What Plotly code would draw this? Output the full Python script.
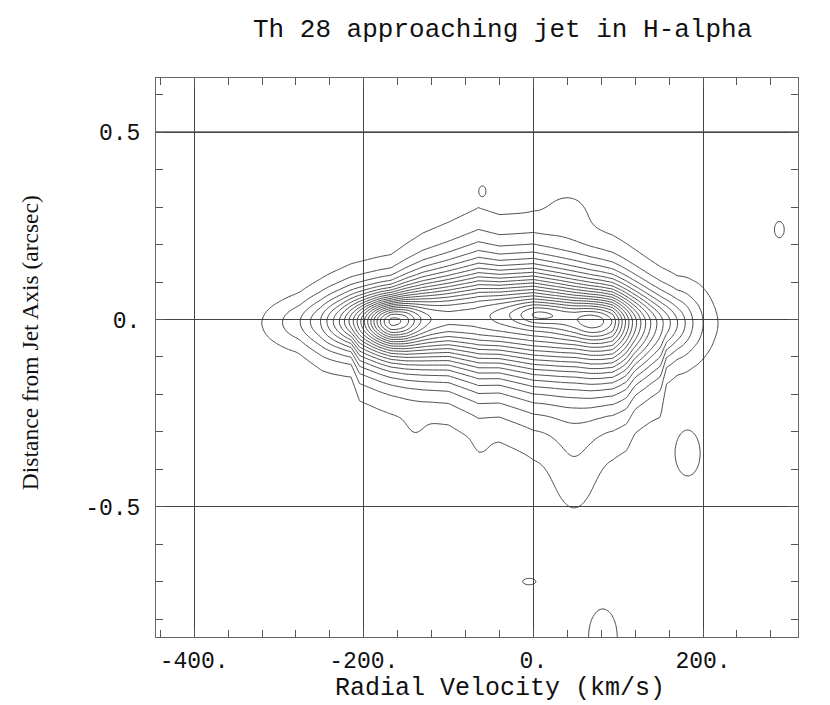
import numpy as np
import plotly.graph_objects as go

# ---------------- text ----------------
title_text = "Th 28 approaching jet in H-alpha"
x_title = "Radial Velocity (km/s)"
y_title = "Distance from Jet Axis (arcsec)"

# ---------------- axes ----------------
x_tick_vals = [-400, -200, 0, 200]
x_tick_text = ["-400.", "-200.", "0.", "200."]
y_tick_vals = [-0.5, 0.0, 0.5]
y_tick_text = ["-0.5", "0.", "0.5"]
x_range = [-445, 312]
y_range = [-0.848, 0.645]

# contour levels (linear, in units of the lowest level)
level_start = 1
level_end = 21
level_step = 1

# ---------------- emission ridge ----------------
# ridge brightness (in contour-level units) along the velocity axis
ridge_v = [-360, -340, -320, -300, -275, -251, -228, -207, -191, -180, -168,
           -150, -127, -100, -70, -40, 0, 30, 50, 68, 80, 93, 101, 109, 117,
           127, 138, 153, 170, 188, 200, 214, 225, 240, 280]
ridge_level = [0.2, 0.5, 1.0, 1.8, 3.0, 5.0, 8.0, 11.2, 13.4, 15.0, 16.5,
               17.0, 16.6, 16.3, 16.5, 17.2, 17.8, 17.6, 17.3, 17.6, 17.6, 17.2, 15.8, 14.2, 12.6,
               10.8, 9.0, 7.0, 5.0, 3.0, 2.0, 1.15, 0.7, 0.3, 0.05]

# ridge centre line (arcsec)
center_v = [-340, -250, -168, -100, 0, 68, 150, 215, 240]
center_d = [-0.01, -0.005, -0.005, 0.005, 0.012, -0.004, -0.01, -0.01, -0.01]

# ridge half-widths above / below the centre line (arcsec)
width_v = [-340, -300, -280, -250, -215, -205, -168, -130, -100, -65, -40, 0,
           50, 90, 110, 120, 150, 157, 170, 200, 215, 240]
width_up = [0.106, 0.106, 0.106, 0.12, 0.125, 0.124, 0.124, 0.16, 0.178, 0.202,
            0.186, 0.186, 0.176, 0.16, 0.153, 0.149, 0.136, 0.135, 0.133, 0.168, 0.165, 0.165]
width_down = [0.116, 0.116, 0.113, 0.136, 0.121, 0.165, 0.172, 0.19, 0.2, 0.234,
              0.231, 0.259, 0.254, 0.248, 0.25, 0.226, 0.215, 0.152, 0.144, 0.168, 0.165, 0.165]
profile_power = 2.5

# knots / peaks / lobes / islands: velocity, offset, widths, strength
blob_v = [-168, 8, 68, 42, 48, -140, -62, -60, 290, 182, -5, 82]
blob_d = [-0.005, 0.013, -0.004, 0.29, -0.40, -0.29, -0.33, 0.345, 0.24, -0.36, -0.70, -0.85]
blob_sv = [22, 22, 24, 18, 20, 9, 7, 4, 8, 19, 10, 22]
blob_sd = [0.04, 0.022, 0.035, 0.04, 0.117, 0.035, 0.03, 0.013, 0.03, 0.077, 0.011, 0.097]
blob_amp = [4.8, 2.4, 3.0, 0.8, 1.0, 0.35, 0.3, 0.75, 1.3, 1.3, 1.25, 1.3]

# ---------------- build the map ----------------
xs = np.arange(x_range[0], x_range[1] + 0.1, 2.0)
ys = np.arange(y_range[0], y_range[1] + 0.0001, 0.004)
X, Y = np.meshgrid(xs, ys)

A = np.interp(X, ridge_v, ridge_level, left=0, right=0)
C = np.interp(X, center_v, center_d)
WU = np.interp(X, width_v, width_up)
WD = np.interp(X, width_v, width_down)
dy = Y - C
W = np.where(dy > 0, WU, WD)
Z = A * (1.0 + (dy / W) ** 2) ** (-profile_power)
for v, d, sv, sd, a in zip(blob_v, blob_d, blob_sv, blob_sd, blob_amp):
    Z = Z + a * np.exp(-0.5 * ((X - v) / sv) ** 2 - 0.5 * ((Y - d) / sd) ** 2)

line_col = "#333333"
fig = go.Figure()
fig.add_trace(go.Contour(
    x=xs, y=ys, z=Z,
    contours=dict(start=level_start, end=level_end, size=level_step, coloring="lines"),
    colorscale=[[0, line_col], [1, line_col]],
    line=dict(width=0.9, smoothing=1),
    showscale=False, hoverinfo="skip",
))

mono = "Liberation Mono"
axis_common = dict(
    ticks="inside", ticklen=9, tickwidth=1, tickcolor="#555",
    showline=True, linecolor="#666", linewidth=1, mirror="ticks",
    showgrid=True, gridcolor="#444", gridwidth=1, zeroline=False,
    tickfont=dict(family=mono, size=23, color="#111"),
)
fig.update_xaxes(range=x_range, tickmode="array", tickvals=x_tick_vals, ticktext=x_tick_text,
                 ticklabelstandoff=2,
                 minor=dict(tickmode="linear", tick0=0, dtick=40, ticks="inside", ticklen=7,
                            tickcolor="#555", showgrid=False),
                 **axis_common)
fig.update_yaxes(range=y_range, tickmode="array", tickvals=y_tick_vals, ticktext=y_tick_text,
                 ticklabelstandoff=10,
                 minor=dict(tickmode="linear", tick0=0, dtick=0.1, ticks="inside", ticklen=7,
                            tickcolor="#555", showgrid=False),
                 **axis_common)

# the page adds an 8 px body margin, so the figure is drawn 8 px smaller
fig.update_layout(
    width=822, height=697,
    margin=dict(l=148, r=32, t=70, b=68, autoexpand=False),
    paper_bgcolor="white", plot_bgcolor="white",
    showlegend=False,
    shapes=[dict(type="line", xref="paper", x0=0, x1=1, yref="y",
                 y0=y_tick_vals[-1], y1=y_tick_vals[-1],
                 line=dict(color="#111", width=1.6), layer="below")],
    annotations=[
        dict(text=title_text, xref="paper", yref="paper", x=0.539, y=1.086,
             xanchor="center", yanchor="middle", showarrow=False,
             font=dict(family=mono, size=26, color="#111")),
        dict(text=x_title, xref="paper", yref="paper", x=0.536, y=-0.092,
             xanchor="center", yanchor="middle", showarrow=False,
             font=dict(family=mono, size=25, color="#111")),
        dict(text=y_title, xref="paper", yref="paper", x=-0.196, y=0.526,
             xanchor="center", yanchor="middle", showarrow=False, textangle=-90,
             font=dict(family="Liberation Serif", size=23.5, color="#111")),
    ],
)

fig.write_html("out.html")
